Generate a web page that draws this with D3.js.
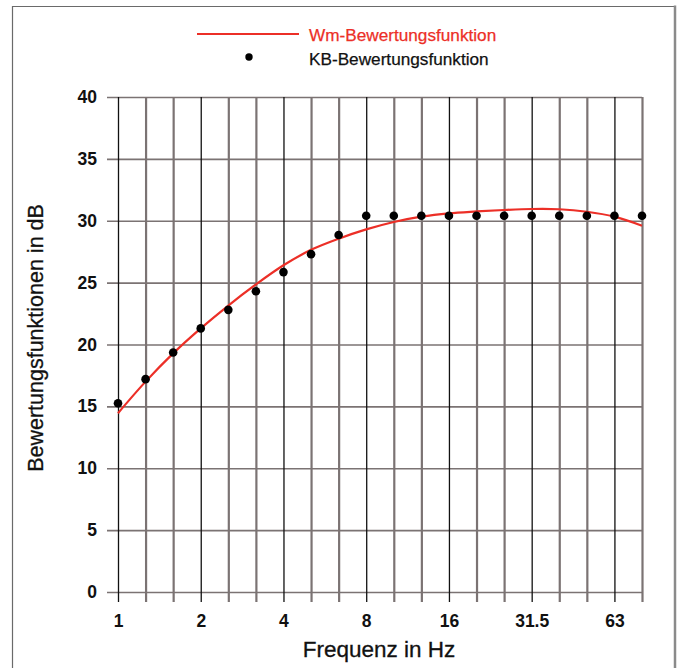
<!DOCTYPE html>
<html>
<head>
<meta charset="utf-8">
<script src="https://cdn.jsdelivr.net/npm/d3@7"></script>
<style>
  html, body { margin: 0; padding: 0; background: #fff; }
  svg { display: block; font-family: "Liberation Sans", Arial, Helvetica, sans-serif; }
</style>
</head>
<body>
<svg id="chart" width="677" height="668"></svg>
<script>
// ---- data ----
const categories = ["1","1.25","1.6","2","2.5","3.15","4","5","6.3","8","10","12.5","16","20","25","31.5","40","50","63","80"];
const labeledTicks = ["1","2","4","8","16","31.5","63"];
const wmValues = [14.45,17.0,19.28,21.3,23.15,24.85,26.4,27.65,28.55,29.3,29.9,30.33,30.6,30.75,30.87,30.95,30.93,30.73,30.33,29.6];
const kbValues = [15.25,17.2,19.35,21.3,22.8,24.3,25.85,27.3,28.85,30.4,30.4,30.4,30.4,30.4,30.4,30.4,30.4,30.4,30.4,30.4];
const yTicks = [0,5,10,15,20,25,30,35,40];
const legendLabels = ["Wm-Bewertungsfunktion","KB-Bewertungsfunktion"];
const xTitle = "Frequenz in Hz";
const yTitle = "Bewertungsfunktionen in dB";

const svg = d3.select("#chart");
const mLeft = 118, mRight = 642, mTop = 97, mBottom = 592;
const red = "#ec2f27", gray = "#7b7373";

// frame
svg.append("path")
  .attr("d", "M12.5,700 V6.5 H674")
  .attr("fill", "none").attr("stroke", "#6a6a6a").attr("stroke-width", 1.2);
svg.append("line").attr("x1", 675).attr("x2", 675).attr("y1", 5.5).attr("y2", 668)
  .attr("stroke", "#8a8a8a").attr("stroke-width", 2.5);

const x = d3.scalePoint().domain(categories).range([mLeft, mRight]);
const y = d3.scaleLinear().domain([0, 40]).range([mBottom, mTop]);

// y axis with grid
const yAxis = svg.append("g").attr("transform", `translate(107,0)`)
  .call(d3.axisLeft(y).tickValues(yTicks).tickSize(-(mRight - 107)).tickPadding(10));
yAxis.select(".domain").remove();
yAxis.selectAll(".tick line").attr("stroke", gray).attr("stroke-width", 1.6);
yAxis.selectAll(".tick text")
  .attr("font-size", 17.5).attr("font-weight", "bold").attr("fill", "#111")
  .attr("font-family", "Liberation Sans, Arial, sans-serif");

// x axis with grid
const xAxis = svg.append("g").attr("transform", `translate(0,${mTop})`)
  .call(d3.axisBottom(x).tickSize(602 - mTop).tickPadding(13)
    .tickFormat(d => labeledTicks.includes(d) ? d : ""));
xAxis.select(".domain").remove();
xAxis.selectAll(".tick line")
  .attr("stroke", d => labeledTicks.includes(d) ? "#111" : gray)
  .attr("stroke-width", d => labeledTicks.includes(d) ? 1.3 : 2.2);
xAxis.selectAll(".tick text")
  .attr("font-size", 17.5).attr("font-weight", "bold").attr("fill", "#111")
  .attr("font-family", "Liberation Sans, Arial, sans-serif");

// Wm curve
const line = d3.line()
  .x((d, i) => x(categories[i]))
  .y(d => y(d))
  .curve(d3.curveCatmullRom.alpha(0.5));
svg.append("path").datum(wmValues)
  .attr("d", line).attr("fill", "none")
  .attr("stroke", red).attr("stroke-width", 2.2);

// KB dots
svg.append("g").selectAll("circle").data(kbValues).join("circle")
  .attr("cx", (d, i) => x(categories[i]))
  .attr("cy", d => y(d))
  .attr("r", 4.3).attr("fill", "#000");

// legend
svg.append("line").attr("x1", 197).attr("x2", 299).attr("y1", 34).attr("y2", 34)
  .attr("stroke", red).attr("stroke-width", 2.2);
svg.append("text").attr("x", 309).attr("y", 40.5).text(legendLabels[0])
  .attr("fill", red).attr("font-size", 17.2).attr("stroke", red).attr("stroke-width", 0.25);
svg.append("circle").attr("cx", 249).attr("cy", 57).attr("r", 3.7).attr("fill", "#000");
svg.append("text").attr("x", 309).attr("y", 64.5).text(legendLabels[1])
  .attr("fill", "#111").attr("font-size", 17.2).attr("stroke", "#111").attr("stroke-width", 0.25);

// axis titles
svg.append("text").attr("x", 379).attr("y", 657).attr("text-anchor", "middle")
  .attr("font-size", 22.5).attr("fill", "#111").attr("stroke", "#111").attr("stroke-width", 0.3).text(xTitle);
svg.append("text").attr("transform", "translate(43,338) rotate(-90)")
  .attr("text-anchor", "middle").attr("font-size", 21.5).attr("fill", "#111")
  .attr("stroke", "#111").attr("stroke-width", 0.3).text(yTitle);
</script>
</body>
</html>
